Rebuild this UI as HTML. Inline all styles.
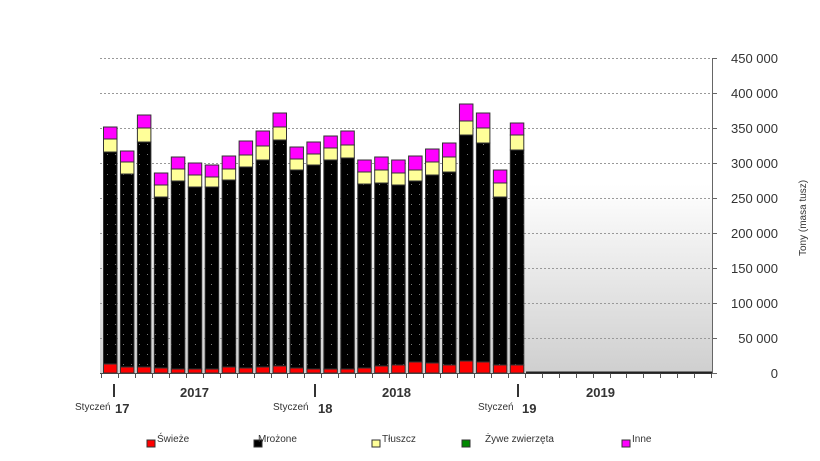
<!DOCTYPE html>
<html><head><meta charset="utf-8"><style>
body{margin:0;background:#fff;}
svg{display:block;font-family:"Liberation Sans",sans-serif;}
</style></head><body>
<svg width="820" height="461" viewBox="0 0 820 461" xmlns="http://www.w3.org/2000/svg">
<defs>
<linearGradient id="bg" x1="0" y1="0" x2="0" y2="1">
<stop offset="0" stop-color="#fff"/><stop offset="0.4" stop-color="#fff"/><stop offset="1" stop-color="#cfcfcf"/>
</linearGradient>
<pattern id="dots" width="8" height="10" patternUnits="userSpaceOnUse">
<rect width="8" height="10" fill="#000"/><rect x="3" y="4" width="1" height="1" fill="#777"/>
</pattern>
</defs>
<rect x="100" y="58" width="612" height="315" fill="url(#bg)"/>
<g stroke="#999" stroke-dasharray="2,2" stroke-width="1">
<line x1="100" y1="58.5" x2="712" y2="58.5"/><line x1="100" y1="93.5" x2="712" y2="93.5"/>
<line x1="100" y1="128.5" x2="712" y2="128.5"/><line x1="100" y1="163.5" x2="712" y2="163.5"/>
<line x1="100" y1="198.5" x2="712" y2="198.5"/><line x1="100" y1="233.5" x2="712" y2="233.5"/>
<line x1="100" y1="268.5" x2="712" y2="268.5"/><line x1="100" y1="303.5" x2="712" y2="303.5"/>
<line x1="100" y1="338.5" x2="712" y2="338.5"/>
</g>
<g id="bars" stroke="#333" stroke-width="1"></g>
<line x1="712.5" y1="58" x2="712.5" y2="373" stroke="#666"/>
<g stroke="#666">
<line x1="712" y1="58.5" x2="717" y2="58.5"/><line x1="712" y1="93.5" x2="717" y2="93.5"/><line x1="712" y1="128.5" x2="717" y2="128.5"/><line x1="712" y1="163.5" x2="717" y2="163.5"/><line x1="712" y1="198.5" x2="717" y2="198.5"/><line x1="712" y1="233.5" x2="717" y2="233.5"/><line x1="712" y1="268.5" x2="717" y2="268.5"/><line x1="712" y1="303.5" x2="717" y2="303.5"/><line x1="712" y1="338.5" x2="717" y2="338.5"/><line x1="712" y1="373.5" x2="717" y2="373.5"/>
</g>
<g font-size="13" fill="#333" text-anchor="end">
<text x="778" y="63">450 000</text><text x="778" y="98">400 000</text><text x="778" y="133">350 000</text><text x="778" y="168">300 000</text><text x="778" y="203">250 000</text><text x="778" y="238">200 000</text><text x="778" y="273">150 000</text><text x="778" y="308">100 000</text><text x="778" y="343">50 000</text><text x="778" y="378">0</text>
</g>
<text transform="translate(806,256) rotate(-90)" font-size="10" fill="#333">Tony (masa tusz)</text>
<line x1="100" y1="373.5" x2="712" y2="373.5" stroke="#444"/>
<g id="ticks" stroke="#555"></g>
<g stroke="#333" stroke-width="2"><line x1="114" y1="384" x2="114" y2="397"/><line x1="315" y1="384" x2="315" y2="397"/><line x1="518" y1="384" x2="518" y2="397"/></g>
<g font-size="13" fill="#333" font-weight="bold">
<text x="180" y="397">2017</text><text x="382" y="397">2018</text><text x="586" y="397">2019</text>
<text x="115" y="413">17</text><text x="318" y="413">18</text><text x="522" y="413">19</text>
</g>
<g font-size="10" fill="#333">
<text x="75" y="410">Styczeń</text><text x="273" y="410">Styczeń</text><text x="478" y="410">Styczeń</text>
</g>
<g font-size="10" fill="#333" stroke="#333">
<rect x="147" y="440" width="8" height="7" fill="#f00"/><text x="157" y="442" stroke="none">Świeże</text>
<rect x="254" y="440" width="8" height="7" fill="#000"/><text x="258" y="442" stroke="none">Mrożone</text>
<rect x="372" y="440" width="8" height="7" fill="#ffff99"/><text x="382" y="442" stroke="none">Tłuszcz</text>
<rect x="462" y="440" width="8" height="7" fill="#080"/><text x="485" y="442" stroke="none">Żywe zwierzęta</text>
<rect x="622" y="440" width="8" height="7" fill="#f0f"/><text x="632" y="442" stroke="none">Inne</text>
</g>
</svg>
<script>
var d=[[127,139,152,9],[151,162,174,6],[115,128,142,6],[173,185,197,5],[157,169,181,4],[163,175,187,4],[165,177,187,4],[156,169,180,6],[141,155,167,5],[131,146,160,6],[113,127,140,7],[147,159,170,5],[142,154,165,4],[136,148,160,4],[131,145,158,4],[160,172,184,5],[157,170,183,7],[160,173,185,8],[156,170,181,11],[149,162,175,10],[143,157,172,8],[104,121,135,12],[113,128,143,11],[170,183,197,8],[123,135,150,8]];
var ns="http://www.w3.org/2000/svg",g=document.getElementById('bars'),t=document.getElementById('ticks');
function r(x,y,w,h,f){var e=document.createElementNS(ns,'rect');e.setAttribute('x',x);e.setAttribute('y',y);e.setAttribute('width',w);e.setAttribute('height',h);e.setAttribute('fill',f);g.appendChild(e);}
d.forEach(function(b,i){var x=103.5+i*16.95;var rt=373-b[3];
r(x,b[0],13.5,b[1]-b[0],'#ff00ff');r(x,b[1],13.5,b[2]-b[1],'#ffff99');r(x,b[2],13.5,rt-b[2],'url(#dots)');r(x,rt,13.5,b[3],'#ff0000');});
for(var i=0;i<=36;i++){var x=Math.round(101+i*16.95)+0.5;if(x>712)break;var l=document.createElementNS(ns,'line');l.setAttribute('x1',x);l.setAttribute('x2',x);l.setAttribute('y1',373);l.setAttribute('y2',378);t.appendChild(l);}
var l=document.createElementNS(ns,'line');l.setAttribute('x1',526);l.setAttribute('x2',712);l.setAttribute('y1',372.5);l.setAttribute('y2',372.5);l.setAttribute('stroke','#222');l.setAttribute('stroke-width','2');t.appendChild(l);
</script>
</body></html>
